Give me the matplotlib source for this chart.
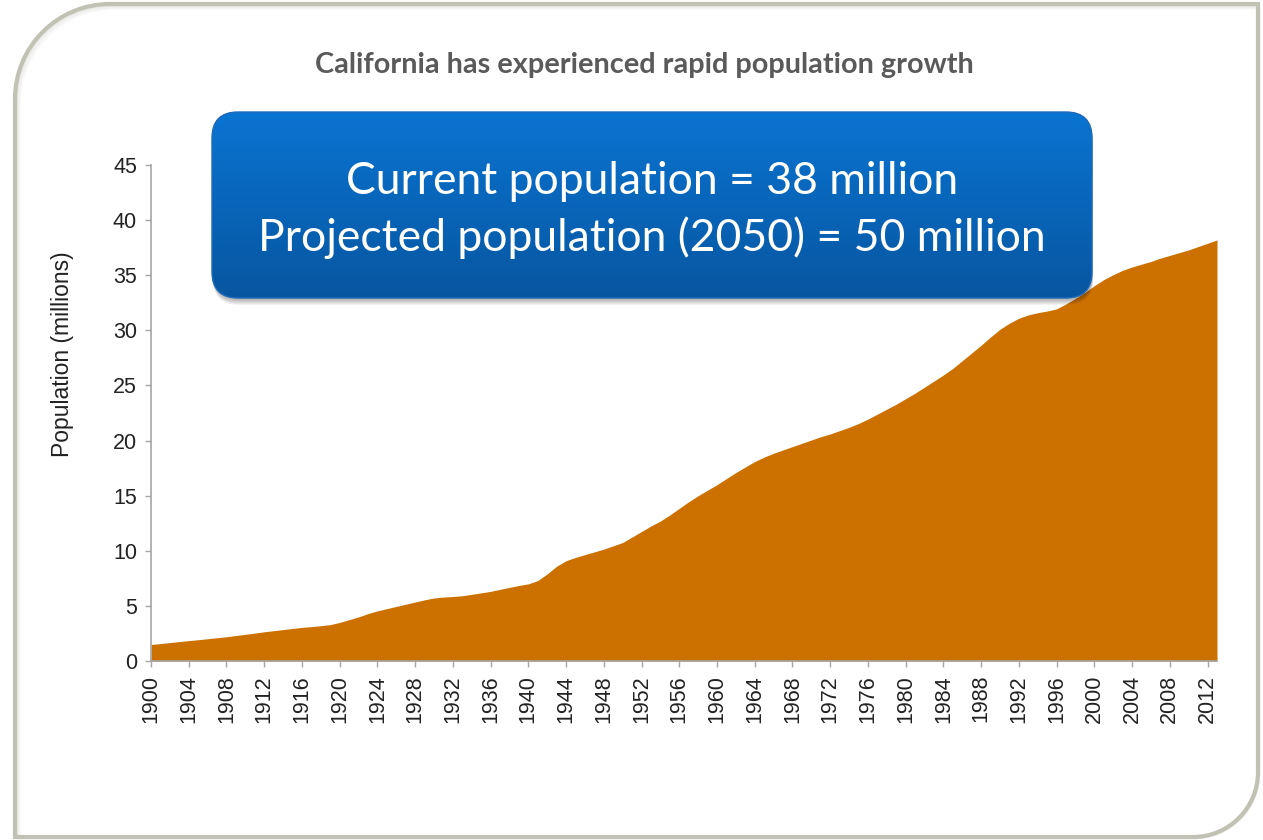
import numpy as np
import matplotlib
matplotlib.use("Agg")
import matplotlib.pyplot as plt
from matplotlib.patches import FancyBboxPatch, PathPatch
from matplotlib.path import Path

plt.rcParams["font.family"] = ["Liberation Sans", "DejaVu Sans"]

# California population, millions, 1900-2013
years = list(range(1900, 2014))
population = [
    1.50, 1.58, 1.67, 1.76, 1.85, 1.93, 2.02, 2.11, 2.20, 2.31,
    2.42, 2.53, 2.65, 2.75, 2.85, 2.95, 3.05, 3.12, 3.20, 3.30,
    3.50, 3.75, 4.00, 4.30, 4.55, 4.75, 4.95, 5.15, 5.35, 5.55,
    5.72, 5.80, 5.85, 5.92, 6.05, 6.18, 6.32, 6.50, 6.68, 6.85,
    7.00, 7.30, 7.90, 8.60, 9.10, 9.40, 9.65, 9.90, 10.15, 10.45,
    10.75, 11.25, 11.75, 12.25, 12.70, 13.25, 13.85, 14.45, 15.00, 15.50,
    16.00, 16.55, 17.10, 17.60, 18.10, 18.50, 18.85, 19.15, 19.45, 19.75,
    20.05, 20.35, 20.60, 20.90, 21.20, 21.55, 21.95, 22.40, 22.85, 23.30,
    23.80, 24.30, 24.85, 25.40, 25.95, 26.55, 27.25, 27.95, 28.65, 29.40,
    30.10, 30.65, 31.10, 31.40, 31.60, 31.75, 31.95, 32.40, 32.90, 33.45,
    34.05, 34.60, 35.05, 35.45, 35.75, 36.00, 36.25, 36.55, 36.80, 37.05,
    37.30, 37.60, 37.90, 38.20,
]
ytick_values = list(range(0, 50, 5))
xtick_years = list(range(1900, 2013, 4))

title_text = "California has experienced rapid population growth"
ylabel_text = "Population (millions)"
callout_lines = ["Current population = 38 million",
                 "Projected population (2050) = 50 million"]

W, H = 1263, 840
fig = plt.figure(figsize=(W / 100, H / 100), dpi=100)
fig.patch.set_facecolor("white")

# ---- main area chart ----
x0, x1, ytop, ybot = 151, 1217, 165, 661
ax = fig.add_axes([x0 / W, 1 - ybot / H, (x1 - x0) / W, (ybot - ytop) / H], zorder=2)
ax.set_facecolor("none")
ax.fill_between(years, population, 0, color="#CC7000", lw=0, zorder=2)
ax.set_xlim(years[0], years[-1])
ax.set_ylim(0, 45)
ax.set_yticks(ytick_values)
ax.set_xticks(xtick_years)
ax.set_xticklabels([str(y) for y in xtick_years], rotation=90)
for side in ("top", "right"):
    ax.spines[side].set_visible(False)
for side in ("left", "bottom"):
    ax.spines[side].set_color("#a6a6a6")
    ax.spines[side].set_linewidth(1.2)
ax.tick_params(axis="both", direction="out", length=4, width=1.0,
               color="#a6a6a6", labelsize=15.5, labelcolor="#222222")
ax.tick_params(axis="y", pad=6)
ax.tick_params(axis="x", pad=6)

# ---- overlay in pixel coordinates for frame, title, axis title and callout ----
ov = fig.add_axes([0, 0, 1, 1], zorder=5)
ov.set_xlim(0, W)
ov.set_ylim(H, 0)
ov.axis("off")

ov.text(62, 354, ylabel_text, rotation=90, fontsize=16.5, color="#222222",
        ha="center", va="center", zorder=3)


def frame_path(left, top, right, bottom, r1, r2):
    k = 0.5523
    verts = [
        (left, bottom),
        (left, top + r1),
        (left, top + r1 - k * r1), (left + r1 - k * r1, top), (left + r1, top),
        (right, top),
        (right, bottom - r2),
        (right, bottom - r2 + k * r2), (right - r2 + k * r2, bottom), (right - r2, bottom),
        (left, bottom),
    ]
    codes = [Path.MOVETO, Path.LINETO,
             Path.CURVE4, Path.CURVE4, Path.CURVE4,
             Path.LINETO, Path.LINETO,
             Path.CURVE4, Path.CURVE4, Path.CURVE4,
             Path.CLOSEPOLY]
    return Path(verts, codes)


# soft shadow of the slide frame
for i, a in enumerate([0.10, 0.07, 0.04]):
    off = 1.5 + i * 1.5
    ov.add_patch(PathPatch(frame_path(15 + off, 4 + off, 1258 + off * 0.3, 837 + off * 0.3, 95, 65),
                           facecolor="none", edgecolor="#707060", lw=2.0, alpha=a, zorder=1))
ov.add_patch(PathPatch(frame_path(15, 4, 1258, 837, 95, 65),
                       facecolor="none", edgecolor="#c2c2b4", lw=3.0, zorder=2))

# title
ov.text(644, 73, title_text, family=["Lato", "DejaVu Sans"], fontweight="bold",
        fontsize=20.8, color="#5a5a5a", ha="center", va="baseline", zorder=3)

# callout box with vertical blue gradient and drop shadow
bx, by, bw, bh, rr = 212, 112, 880, 186, 26
for i in range(6):
    sh = FancyBboxPatch((bx + 1, by + 2 + i), bw, bh,
                        boxstyle=f"round,pad=0,rounding_size={rr}",
                        facecolor="black", edgecolor="none", alpha=0.05, zorder=3)
    ov.add_patch(sh)
box = FancyBboxPatch((bx, by), bw, bh, boxstyle=f"round,pad=0,rounding_size={rr}",
                     facecolor="none", edgecolor="#1e6ab8", lw=1.0, zorder=5)
ov.add_patch(box)
top_rgb = np.array([0x0a, 0x74, 0xd2]) / 255
bot_rgb = np.array([0x07, 0x56, 0xa0]) / 255
t = np.linspace(0, 1, 200).reshape(-1, 1, 1)
grad = top_rgb * (1 - t) + bot_rgb * t
grad = np.repeat(grad, 2, axis=1)
im = ov.imshow(grad, extent=(bx, bx + bw, by + bh, by), origin="upper",
               aspect="auto", interpolation="bilinear", zorder=4)
im.set_clip_path(box)

ov.text(652, 194, callout_lines[0], family=["Lato", "DejaVu Sans"], fontsize=32,
        color="white", ha="center", va="baseline", zorder=6)
ov.text(652, 251, callout_lines[1], family=["Lato", "DejaVu Sans"], fontsize=32,
        color="white", ha="center", va="baseline", zorder=6)

fig.savefig("out.png", dpi=100, facecolor="white")
